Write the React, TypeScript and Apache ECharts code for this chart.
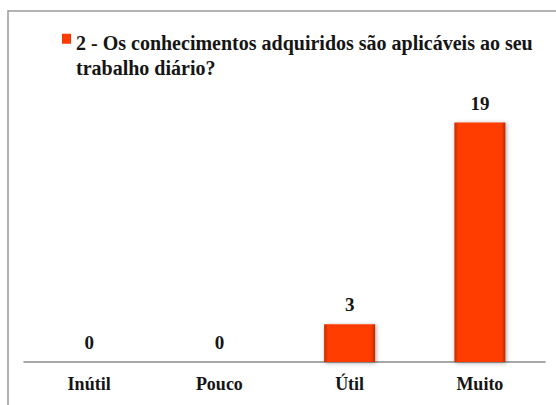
import React, { useEffect, useRef } from "react";
import * as echarts from "echarts";

const categories = ["Inútil", "Pouco", "Útil", "Muito"];
const values = [0, 0, 3, 19];
const seriesName = "2 - Os conhecimentos adquiridos são aplicáveis ao seu\ntrabalho diário?";

export default function App() {
  const ref = useRef<HTMLDivElement>(null);
  useEffect(() => {
    if (!ref.current) return;
    const chart = echarts.init(ref.current, null, { renderer: "svg" });
    const font = "Times New Roman, Liberation Serif, DejaVu Serif, serif";
    chart.setOption({
      animation: false,
      backgroundColor: "#ffffff",
      graphic: [
        {
          type: "rect",
          shape: { x: 8, y: 11, width: 600, height: 450 },
          style: { fill: "none", stroke: "#9a9a9a", lineWidth: 1.5 },
          z: 0,
          silent: true,
        },
      ],
      legend: {
        left: 57,
        top: 25,
        itemWidth: 9,
        itemHeight: 50,
        icon: "path://M0,7.5h9v10h-9zM0,50h9v0h-9z",
        data: [seriesName],
        selectedMode: false,
        textStyle: {
          fontFamily: font,
          fontWeight: "bold",
          fontSize: 20,
          lineHeight: 25,
          color: "#151515",
        },
      },
      grid: { left: 24, right: 11, top: 110, bottom: 43, containLabel: false },
      xAxis: {
        type: "category",
        data: categories,
        axisLine: { lineStyle: { color: "#8a8a8a", width: 1.5 } },
        axisTick: { show: false },
        axisLabel: {
          fontFamily: font,
          fontWeight: "bold",
          fontSize: 18,
          color: "#151515",
          margin: 13,
        },
      },
      yAxis: {
        type: "value",
        min: 0,
        max: 20,
        show: false,
        splitLine: { show: false },
      },
      series: [
        {
          name: seriesName,
          type: "bar",
          data: values,
          barWidth: 51,
          itemStyle: {
            color: new echarts.graphic.LinearGradient(0, 0, 1, 0, [
              { offset: 0, color: "#c42c00" },
              { offset: 0.08, color: "#ff3d02" },
              { offset: 0.92, color: "#ff3d02" },
              { offset: 1, color: "#b82800" },
            ]),
            shadowColor: "rgba(0,0,0,0.35)",
            shadowBlur: 4,
            shadowOffsetX: 1,
            shadowOffsetY: 1,
          },
          label: {
            show: true,
            position: "top",
            distance: 10,
            fontFamily: font,
            fontWeight: "bold",
            fontSize: 19,
            color: "#151515",
          },
        },
      ],
    });
    return () => chart.dispose();
  }, []);
  return <div ref={ref} style={{ width: 556, height: 405, position: "absolute", left: 0, top: 0 }} />;
}
